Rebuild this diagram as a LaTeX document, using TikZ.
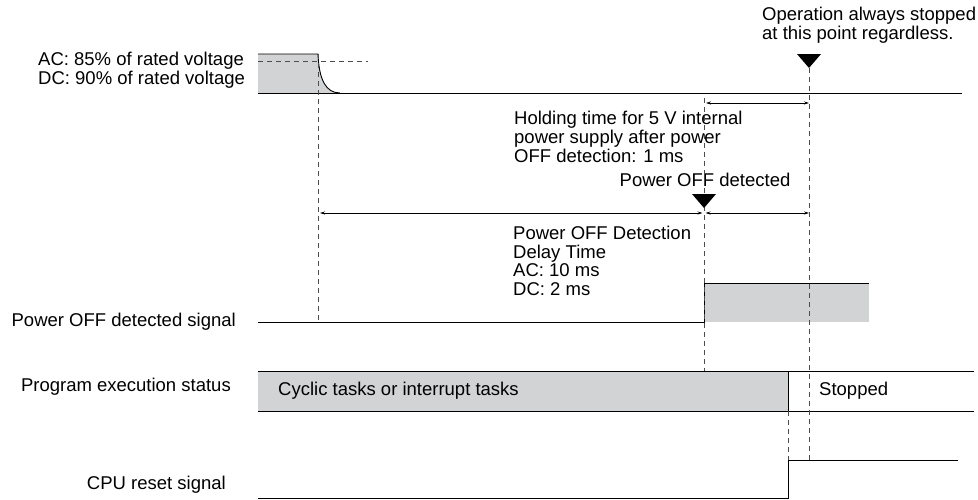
\documentclass[tikz,border=0pt]{standalone}
\usepackage{fontspec}
\setmainfont{Liberation Sans}
\usetikzlibrary{arrows.meta}
\definecolor{levelgray}{RGB}{209,211,212}

\begin{document}
\begin{tikzpicture}[x=1pt, y=-1pt,
    txt/.style={font=\fontsize{18.5}{18.7}\selectfont, inner sep=0pt, align=left},
    wave/.style={line width=0.9pt},
    level/.style={fill=levelgray},
    guide/.style={line width=0.8pt, dash pattern=on 5pt off 4pt, black!70},
    span/.style={{Stealth[length=5pt,width=3pt]}-{Stealth[length=5pt,width=3pt]}, line width=0.7pt}
]
\useasboundingbox (0,0) rectangle (978,499);

% Time points
\coordinate (drop)  at (318,54);
\coordinate (det)   at (704,208);
\coordinate (stop)  at (809,68);
\coordinate (reset) at (788,460);

% Labels on the left
\node[txt, anchor=west] (volt) at (38,70.5) {AC: 85\% of rated voltage\\DC: 90\% of rated voltage};
\node[txt, anchor=east] (sigL) at (236,322) {Power OFF detected signal};
\node[txt, anchor=east] (progL) at (231,387) {Program execution status};
\node[txt, anchor=east] (cpuL) at (226,485) {CPU reset signal};

% Notes
\node[txt, anchor=west] (opNote) at (762,25) {Operation always stopped\\at this point regardless.};
\node[txt, anchor=west] (holdNote) at (514,137) {Holding time for 5 V internal\\power supply after power\\OFF detection: 1 ms};
\node[txt] (detNote) at (705,180) {Power OFF detected};
\node[txt, anchor=west] (delayNote) at (513,261) {Power OFF Detection\\Delay Time\\AC: 10 ms\\DC: 2 ms};

% Power supply voltage
\path[level] (258,54) -- (drop) .. controls (319,80) and (326,93) .. (340,93) -- (258,93) -- cycle;
\draw[wave] (258,54) -- (drop) .. controls (319,80) and (326,93) .. (340,93);
\draw[wave] (258,93) -- (962,93);
\draw[guide] (258,61) -- (368,61);

% Power OFF detected signal
\path[level] (704,283) rectangle (869,322);
\draw[wave] (258,322) -- (704,322) -- (704,283) -- (869,283);

% Program execution status
\path[level] (258,371) rectangle (788,411);
\draw[wave] (258,371) -- (974,371);
\draw[wave] (258,411) -- (974,411);
\draw[wave] (788,371) -- (788,411);
\node[txt, anchor=west] (cyclic) at (278,391) {Cyclic tasks or interrupt tasks};
\node[txt, anchor=west] (stopped) at (819,391) {Stopped};

% CPU reset signal
\draw[wave] (258,498) -- (788,498) -- (reset) -- (958,460);

% Guides
\draw[guide] (drop) -- (318,322);
\draw[guide] (704,98) -- (704,371);
\draw[guide] (788,411) -- (reset);
\draw[guide] (stop) -- (809,460);

% Markers
\fill (stop) -- ++(-12,-14) -- ++(24,0) -- cycle;
\fill (det) -- ++(-12,-14) -- ++(24,0) -- cycle;

% Time spans
\coordinate (holdA) at (704,103);
\coordinate (holdB) at (809,103);
\coordinate (delA) at (318,213);
\coordinate (delB) at (704,213);
\coordinate (delC) at (809,213);
\draw[span] ([xshift=2pt]holdA) -- (holdB);
\draw[span] ([xshift=2pt]delA) -- ([xshift=-1.5pt]delB);
\draw[span] ([xshift=1.5pt]delB) -- (delC);

\end{tikzpicture}
\end{document}
